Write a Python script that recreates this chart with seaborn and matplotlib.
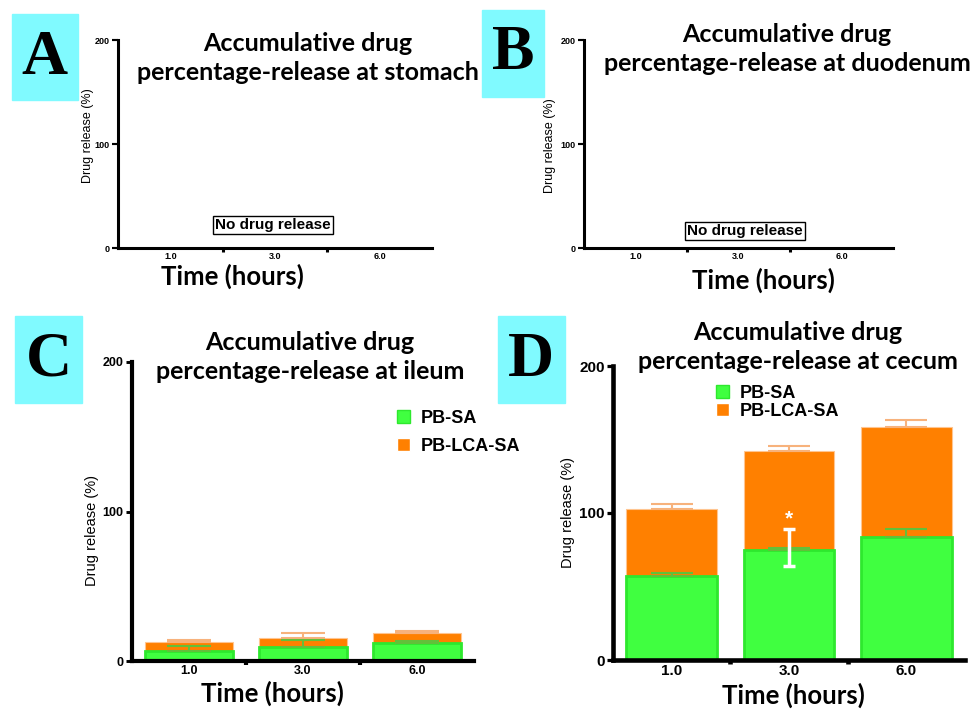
import matplotlib
matplotlib.use("Agg")
import matplotlib.pyplot as plt
from matplotlib.patches import Rectangle, Patch
import pandas as pd
import seaborn as sns

# data (percent release, stacked)
TIMES = ["1.0", "3.0", "6.0"]
STOMACH = [0, 0, 0]
DUODENUM = [0, 0, 0]
ILEUM_PBSA = [6.5, 9.5, 12.0]
ILEUM_PBSA_ERR = [3.3, 4.5, 1.3]
ILEUM_LCA = [6.4, 6.1, 7.0]
ILEUM_LCA_ERR = [1.1, 3.4, 1.2]
CECUM_PBSA = [57.0, 75.0, 83.5]
CECUM_PBSA_ERR = [2.4, 1.4, 5.5]
CECUM_LCA = [45.7, 67.0, 75.2]
CECUM_LCA_ERR = [3.3, 3.6, 4.3]
# white error bar with asterisk over the 3 h bar of panel D
STAR_MEAN = 76.5
STAR_ERR = 12.5

GREEN = "#40FF40"
GREEN_EDGE = "#2EE82E"
GREEN_ERR = "#62C03A"
ORANGE = "#FF8000"
ORANGE_ERR = "#F7B27C"
CYAN = "#80FAFF"

W, H = 972, 709
sns.set_theme(style="white")
plt.rcParams["font.family"] = ["Liberation Sans", "DejaVu Sans"]
plt.rcParams["text.color"] = "black"
plt.rcParams["xtick.color"] = "black"
plt.rcParams["ytick.color"] = "black"
plt.rcParams["axes.labelcolor"] = "black"

fig = plt.figure(figsize=(W / 100, H / 100), dpi=100)


def px_axes(left, top, right, bottom):
    return fig.add_axes([left / W, 1 - bottom / H, (right - left) / W, (bottom - top) / H])


def fx(x):
    return x / W


def fy(y):
    return 1 - y / H


def style_axes(ax, tick_size, spine_w, tick_pad):
    ax.set_xlim(-0.5, 2.5)
    ax.set_ylim(0, 200)
    ax.set_yticks([0, 100, 200])
    sns.despine(ax=ax)
    for s in ["left", "bottom"]:
        ax.spines[s].set_linewidth(spine_w)
        ax.spines[s].set_color("black")
    ax.set_xlabel("")
    ax.set_ylabel("")
    ax.set_xticks([0.5, 1.5], minor=True)
    ax.tick_params(axis="x", which="major", length=0, pad=tick_pad,
                   labelsize=tick_size, labelcolor="black")
    ax.tick_params(axis="x", which="minor", bottom=True, length=3,
                   width=spine_w, color="black")
    ax.tick_params(axis="y", left=True, length=4, width=spine_w * 0.7,
                   color="black", labelsize=tick_size, pad=2, labelcolor="black")
    for lab in ax.get_xticklabels() + ax.get_yticklabels():
        lab.set_fontweight("bold")
    ax.set_facecolor("white")
    ax.grid(False)


def stacked(ax, pbsa, pbsa_err, lca, lca_err, capsize):
    total = [a + b for a, b in zip(pbsa, lca)]
    df = pd.DataFrame({"time": TIMES, "pbsa": pbsa, "total": total})
    sns.barplot(data=df, x="time", y="total", order=TIMES, color=ORANGE,
                width=0.77, saturation=1, edgecolor="#FFC590", linewidth=0.8,
                errorbar=None, ax=ax)
    sns.barplot(data=df, x="time", y="pbsa", order=TIMES, color=GREEN,
                width=0.77, saturation=1, edgecolor=GREEN_EDGE, linewidth=2,
                errorbar=None, ax=ax)
    xs = list(range(len(TIMES)))
    ax.errorbar(xs, total, yerr=[[0] * 3, lca_err], fmt="none",
                ecolor=ORANGE_ERR, elinewidth=1.5, capsize=capsize,
                capthick=1.5, zorder=1)
    ax.errorbar(xs, pbsa, yerr=[[0] * 3, pbsa_err], fmt="none",
                ecolor=GREEN_ERR, elinewidth=1.5, capsize=capsize,
                capthick=1.5, zorder=3)


def empty(ax, vals):
    df = pd.DataFrame({"time": TIMES, "v": vals})
    sns.barplot(data=df, x="time", y="v", order=TIMES, color="white",
                width=0.77, errorbar=None, ax=ax)


# panel axes
axA = px_axes(118, 40, 432, 248)
axB = px_axes(584, 40, 893, 248)
axC = px_axes(132, 362, 474, 661)
axD = px_axes(613, 366, 965, 660)

empty(axA, STOMACH)
empty(axB, DUODENUM)
stacked(axC, ILEUM_PBSA, ILEUM_PBSA_ERR, ILEUM_LCA, ILEUM_LCA_ERR, 16)
stacked(axD, CECUM_PBSA, CECUM_PBSA_ERR, CECUM_LCA, CECUM_LCA_ERR, 15)

axD.errorbar([1], [STAR_MEAN], yerr=[STAR_ERR], fmt="none", ecolor="white",
             elinewidth=2.5, capsize=4.5, capthick=2.5, zorder=5)
axD.text(1, STAR_MEAN + STAR_ERR + 7, "*", color="white", ha="center",
         va="center", fontsize=15, fontweight="bold", zorder=6)

style_axes(axA, 6.5, 2.2, 3)
style_axes(axB, 6.5, 2.2, 3)
style_axes(axC, 9, 3, 3)
style_axes(axD, 11, 3.3, 3)

# titles, labels, letters
title_font = dict(family=["Lato", "DejaVu Sans"], fontweight="bold",
                  ha="center", va="center", linespacing=1.3, color="black")
titles = [
    (308, 58, "Accumulative drug\npercentage-release at stomach", 18),
    (787, 49, "Accumulative drug\npercentage-release at duodenum", 18),
    (310, 357, "Accumulative drug\npercentage-release at ileum", 18),
    (798, 347, "Accumulative drug\npercentage-release at cecum", 18),
]
for x, y, t, s in titles:
    fig.text(fx(x), fy(y), t, fontsize=s, **title_font)

xlabels = [(232, 276, 18.5), (763, 280, 18.5), (272, 693, 18.5), (793, 695, 18.5)]
for x, y, s in xlabels:
    fig.text(fx(x), fy(y), "Time (hours)", fontsize=s, family=["Lato", "DejaVu Sans"],
             fontweight="bold", ha="center", va="center", color="black")

ylabels = [(88, 136, 9), (550, 146, 9), (92, 530, 10.5), (568, 513, 10.5)]
for x, y, s in ylabels:
    fig.text(fx(x), fy(y), "Drug release (%)", fontsize=s, rotation=90,
             ha="center", va="center", color="black")

letters = [
    ("A", (12, 14, 78, 100), (44.5, 59)),
    ("B", (482, 10, 544, 97), (513, 54)),
    ("C", (15, 316, 82, 403), (49, 361)),
    ("D", (498, 316, 565, 403), (531, 361)),
]
for letter, (l, t, r, b), (cx, cy) in letters:
    fig.patches.append(Rectangle((fx(l), fy(b)), (r - l) / W, (b - t) / H,
                                 transform=fig.transFigure, color=CYAN, zorder=0))
    fig.text(fx(cx), fy(cy), letter, fontsize=46, family=["Liberation Serif"],
             fontweight="bold", ha="center", va="center", color="black")

for x, y in [(273, 225), (745, 231)]:
    fig.text(fx(x), fy(y), "No drug release", fontsize=11, fontweight="bold",
             ha="center", va="center", color="black",
             bbox=dict(boxstyle="square,pad=0.15", fc="white", ec="black", lw=1))

handles = [Patch(facecolor=GREEN, edgecolor=GREEN_EDGE), Patch(facecolor=ORANGE)]
labels = ["PB-SA", "PB-LCA-SA"]
for ax, (x, y), spacing in [(axC, (397, 410), 0.6), (axD, (716, 385), 0.05)]:
    leg = ax.legend(handles, labels, loc="upper left", bbox_to_anchor=(fx(x), fy(y)),
                    bbox_transform=fig.transFigure, frameon=False,
                    handlelength=0.7, handleheight=0.7, handletextpad=0.6,
                    labelspacing=spacing, borderpad=0, borderaxespad=0,
                    prop=dict(size=13, weight="bold", family="Liberation Sans"))
    for t in leg.get_texts():
        t.set_color("black")

fig.savefig("out.png", dpi=100, facecolor="white")
